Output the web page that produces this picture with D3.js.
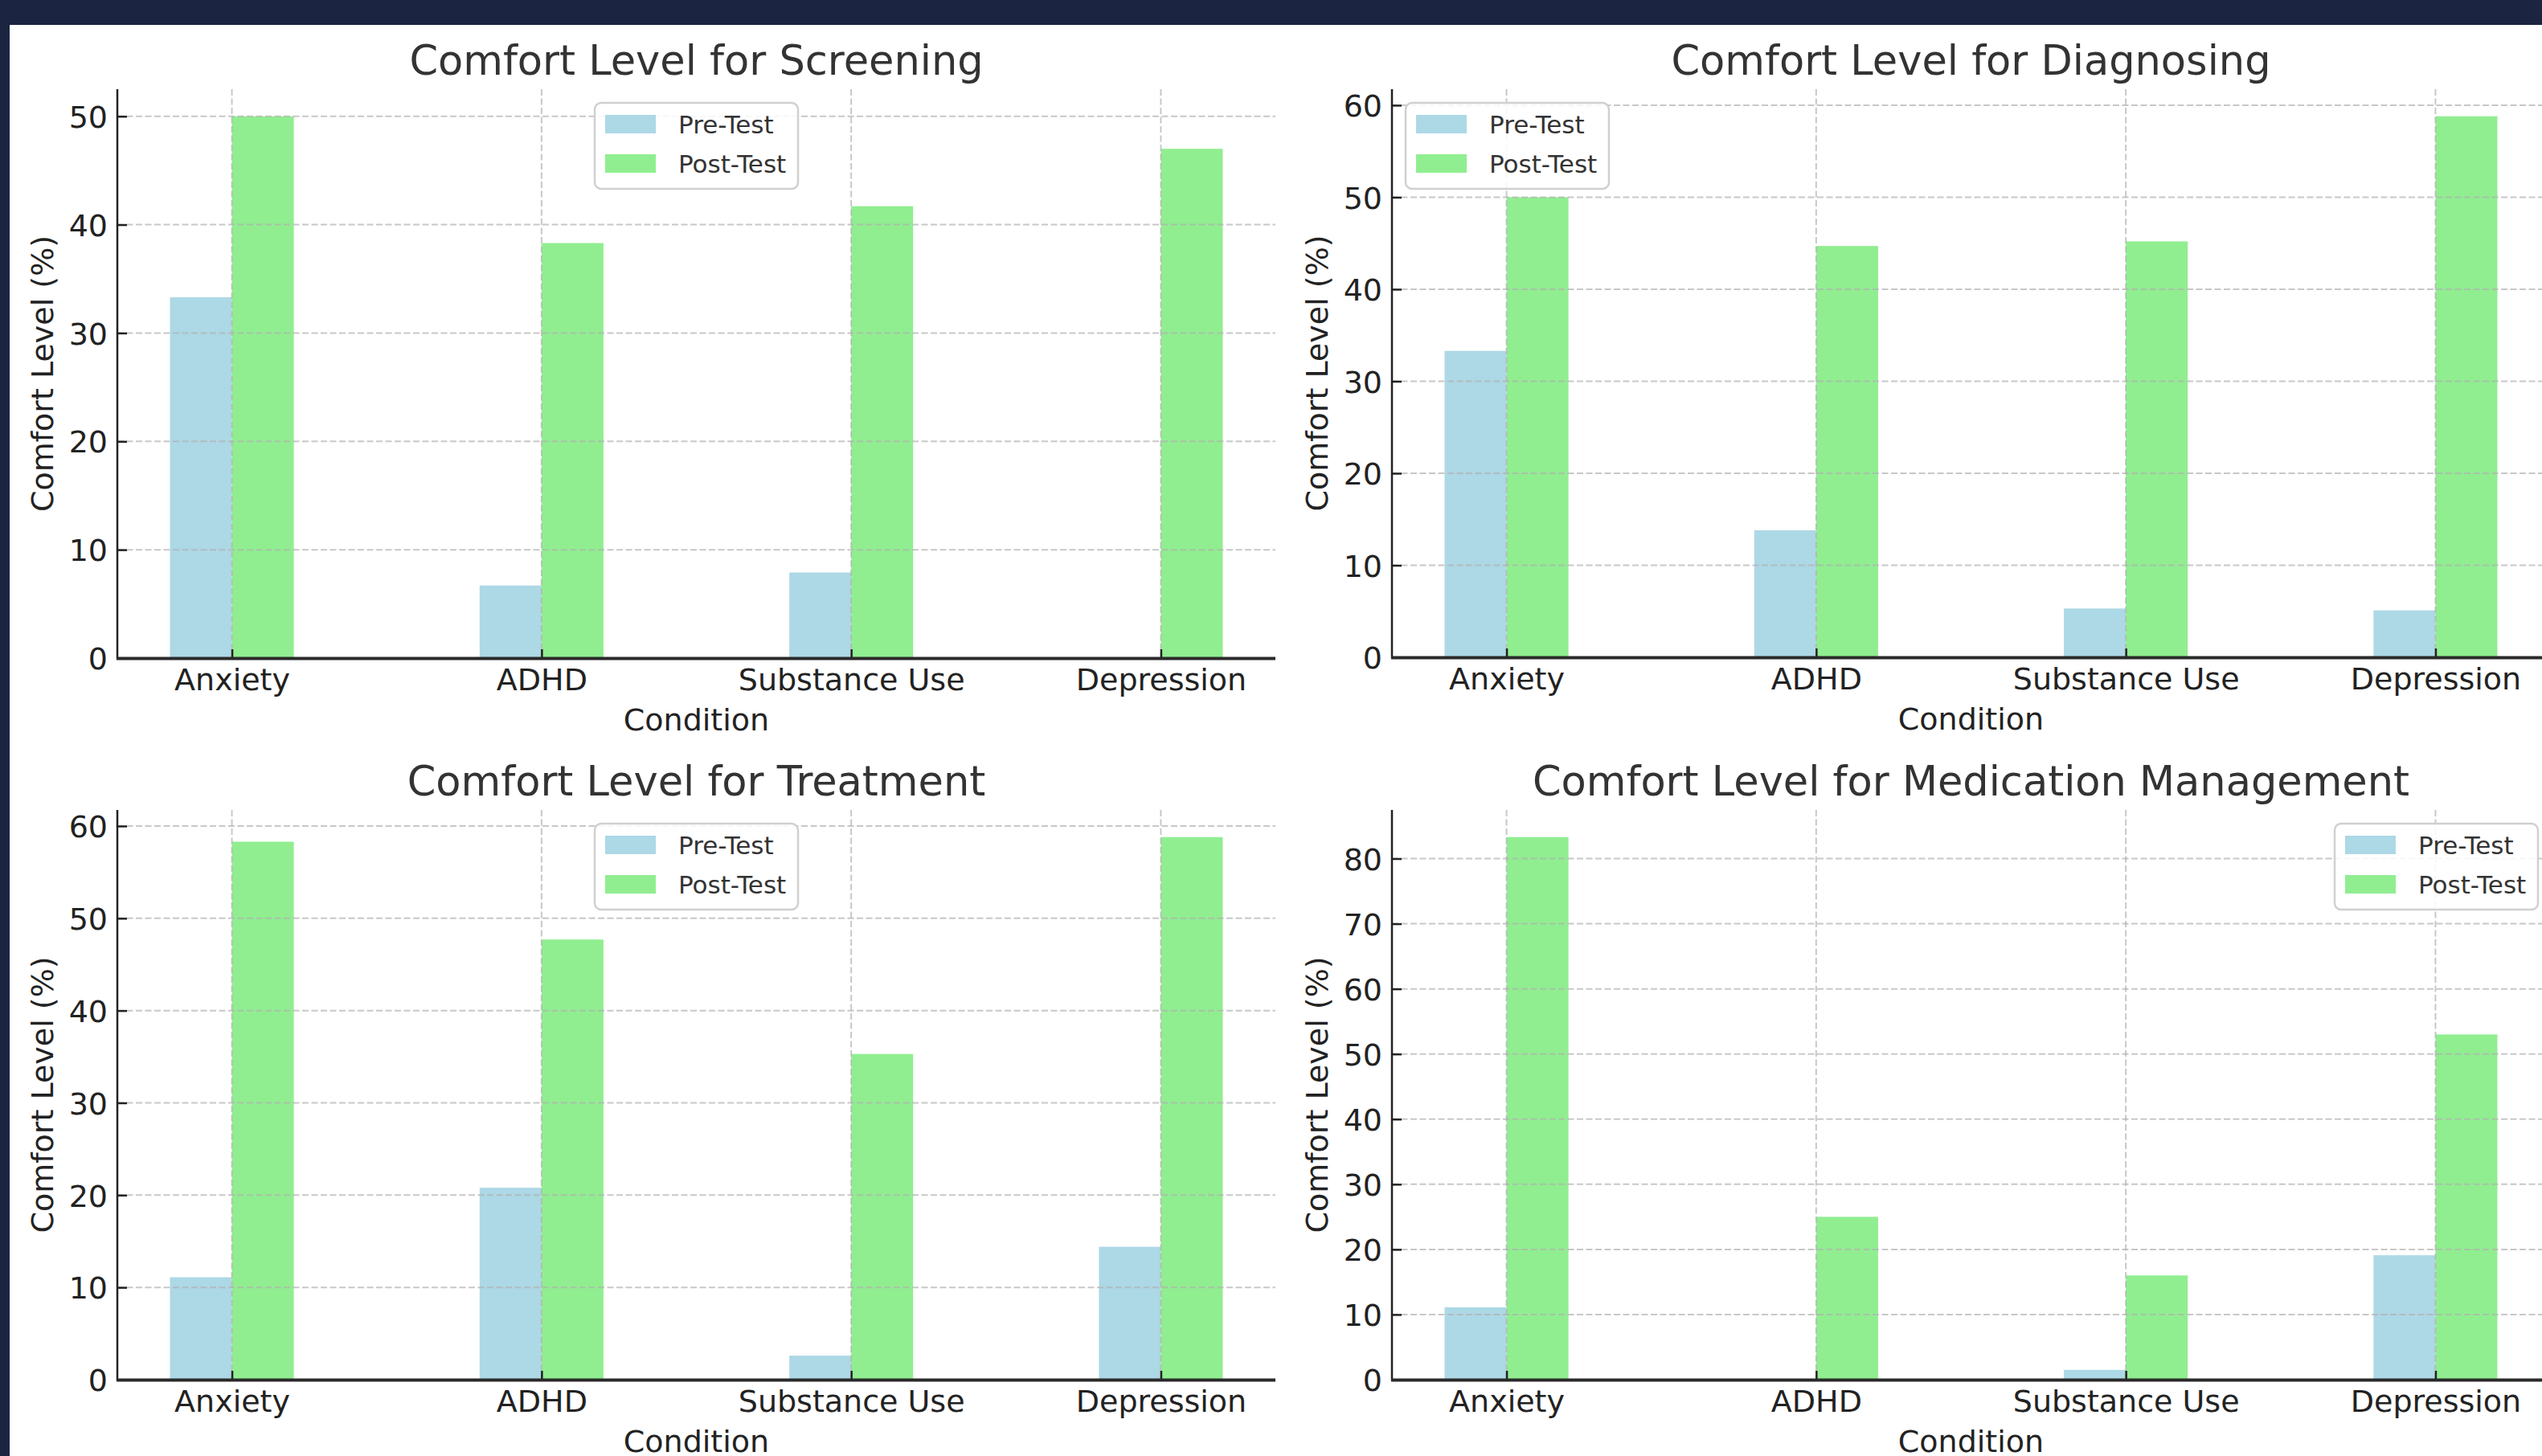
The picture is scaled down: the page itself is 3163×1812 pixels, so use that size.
<!DOCTYPE html>
<html>
<head>
<meta charset="utf-8">
<script src="https://cdn.jsdelivr.net/npm/d3@7"></script>
<style>
  html, body { margin: 0; padding: 0; background: #1b2541; overflow: hidden; }
  svg { display: block; font-family: "DejaVu Sans", sans-serif; }
</style>
</head>
<body>
<svg id="chart" width="3163" height="1812"></svg>
<script>
// ---------- data ----------
const categories = ["Anxiety", "ADHD", "Substance Use", "Depression"];
const seriesNames = ["Pre-Test", "Post-Test"];

const screeningPre  = [33.3, 6.7, 7.9, 0];
const screeningPost = [50.0, 38.3, 41.7, 47.0];

const diagnosingPre  = [33.3, 13.8, 5.3, 5.1];
const diagnosingPost = [50.0, 44.7, 45.2, 58.8];

const treatmentPre  = [11.1, 20.8, 2.6, 14.4];
const treatmentPost = [58.3, 47.7, 35.3, 58.8];

const medicationPre  = [11.1, 0, 1.5, 19.1];
const medicationPost = [83.3, 25.0, 16.0, 53.0];

const titles = [
  "Comfort Level for Screening",
  "Comfort Level for Diagnosing",
  "Comfort Level for Treatment",
  "Comfort Level for Medication Management"
];
const yTicksScreening  = [0, 10, 20, 30, 40, 50];
const yTicksDiagnosing = [0, 10, 20, 30, 40, 50, 60];
const yTicksTreatment  = [0, 10, 20, 30, 40, 50, 60];
const yTicksMedication = [0, 10, 20, 30, 40, 50, 60, 70, 80];
const xLabel = "Condition";
const yLabel = "Comfort Level (%)";

// ---------- layout ----------
const colors = ["#ADD8E6", "#90EE90"];
const panels = [
  { title: titles[0], pre: screeningPre,  post: screeningPost,  ticks: yTicksScreening,  left: 146,  top: 111,  bottom: 819,  legend: "center" },
  { title: titles[1], pre: diagnosingPre, post: diagnosingPost, ticks: yTicksDiagnosing, left: 1732, top: 111,  bottom: 818,  legend: "left" },
  { title: titles[2], pre: treatmentPre,  post: treatmentPost,  ticks: yTicksTreatment,  left: 146,  top: 1008, bottom: 1717, legend: "center" },
  { title: titles[3], pre: medicationPre, post: medicationPost, ticks: yTicksMedication, left: 1732, top: 1008, bottom: 1717, legend: "right" }
];
const plotW = 1441;
const barW = 0.2;
const tickFont = 38;

const svg = d3.select("#chart");
svg.append("rect").attr("x", 12).attr("y", 31).attr("width", 3163 - 12).attr("height", 1812 - 31).attr("fill", "#ffffff");

panels.forEach(p => {
  const right = p.left + plotW;
  const n = categories.length;
  const span = (n - 1) + 2 * barW;
  const x = d3.scaleLinear()
    .domain([-barW - 0.05 * span, (n - 1) + barW + 0.05 * span])
    .range([p.left, right]);
  const maxV = d3.max(p.pre.concat(p.post));
  const y = d3.scaleLinear().domain([0, maxV * 1.05]).range([p.bottom, p.top]);

  const g = svg.append("g");

  // bars
  const series = [p.pre, p.post];
  series.forEach((vals, s) => {
    g.append("g").selectAll("rect")
      .data(vals)
      .join("rect")
      .attr("x", (d, i) => x(i + (s === 0 ? -barW : 0)))
      .attr("width", (d, i) => x(i + barW) - x(i))
      .attr("y", d => y(d))
      .attr("height", d => p.bottom - y(d))
      .attr("fill", colors[s]);
  });

  // grid (above bars)
  const grid = g.append("g").attr("stroke", "#b0b0b0").attr("stroke-opacity", 0.7)
    .attr("stroke-width", 2).attr("stroke-dasharray", "8,3.5").attr("fill", "none");
  grid.selectAll("line.h").data(p.ticks.filter(t => t > 0)).join("line")
    .attr("class", "h")
    .attr("x1", p.left).attr("x2", right)
    .attr("y1", d => y(d)).attr("y2", d => y(d));
  grid.selectAll("line.v").data(categories).join("line")
    .attr("class", "v")
    .attr("x1", (d, i) => x(i)).attr("x2", (d, i) => x(i))
    .attr("y1", p.top).attr("y2", p.bottom);

  // y axis
  const yAxis = d3.axisLeft(y).tickValues(p.ticks).tickFormat(d3.format("d"))
    .tickSizeInner(-12).tickSizeOuter(0).tickPadding(12);
  const ya = g.append("g").attr("transform", `translate(${p.left},0)`).call(yAxis);
  ya.select(".domain").remove();
  ya.selectAll(".tick line").attr("stroke", "#222").attr("stroke-width", 2.5);
  ya.selectAll(".tick text").attr("fill", "#222").attr("font-size", tickFont)
    .attr("font-family", "DejaVu Sans").attr("dy", "0.36em");

  // x axis
  const xAxis = d3.axisBottom(x).tickValues(d3.range(n)).tickFormat(i => categories[i])
    .tickSizeInner(-11).tickSizeOuter(0).tickPadding(0);
  const xa = g.append("g").attr("transform", `translate(0,${p.bottom})`).call(xAxis);
  xa.select(".domain").remove();
  xa.selectAll(".tick line").attr("stroke", "#222").attr("stroke-width", 2.5);
  xa.selectAll(".tick text").attr("fill", "#222").attr("font-size", tickFont)
    .attr("font-family", "DejaVu Sans").attr("y", 40).attr("dy", 0);

  // spines
  g.append("line").attr("x1", p.left).attr("x2", p.left).attr("y1", p.top).attr("y2", p.bottom + 1)
    .attr("stroke", "#222").attr("stroke-width", 2.5);
  g.append("line").attr("x1", p.left - 1).attr("x2", right).attr("y1", p.bottom + 0.5).attr("y2", p.bottom + 0.5)
    .attr("stroke", "#2a2a2a").attr("stroke-width", 4);

  // title
  g.append("text").attr("x", (p.left + right) / 2).attr("y", p.top - 18)
    .attr("text-anchor", "middle").attr("font-size", 51).attr("fill", "#333")
    .text(p.title);

  // axis labels
  g.append("text").attr("x", (p.left + right) / 2).attr("y", p.bottom + 90)
    .attr("text-anchor", "middle").attr("font-size", tickFont).attr("fill", "#222")
    .text(xLabel);
  g.append("text")
    .attr("transform", `translate(${p.left - 80},${(p.top + p.bottom) / 2}) rotate(-90)`)
    .attr("text-anchor", "middle").attr("font-size", tickFont).attr("fill", "#222")
    .text(yLabel);

  // legend
  const lw = 253, lh = 107;
  let lx;
  if (p.legend === "center") lx = (p.left + right) / 2 - lw / 2;
  else if (p.legend === "left") lx = p.left + 17;
  else lx = right - 15 - lw;
  const ly = p.top + 17;
  const lg = g.append("g").attr("transform", `translate(${lx},${ly})`);
  lg.append("rect").attr("width", lw).attr("height", lh).attr("rx", 8)
    .attr("fill", "#ffffff").attr("fill-opacity", 0.85)
    .attr("stroke", "#d0d0d0").attr("stroke-width", 2.5);
  seriesNames.forEach((name, s) => {
    lg.append("rect").attr("x", 13).attr("y", 15 + s * 49).attr("width", 63).attr("height", 23)
      .attr("fill", colors[s]);
    lg.append("text").attr("x", 104).attr("y", 15 + s * 49 + 11.5).attr("dy", "0.36em")
      .attr("font-size", 31).attr("fill", "#333").text(name);
  });
});
</script>
</body>
</html>
